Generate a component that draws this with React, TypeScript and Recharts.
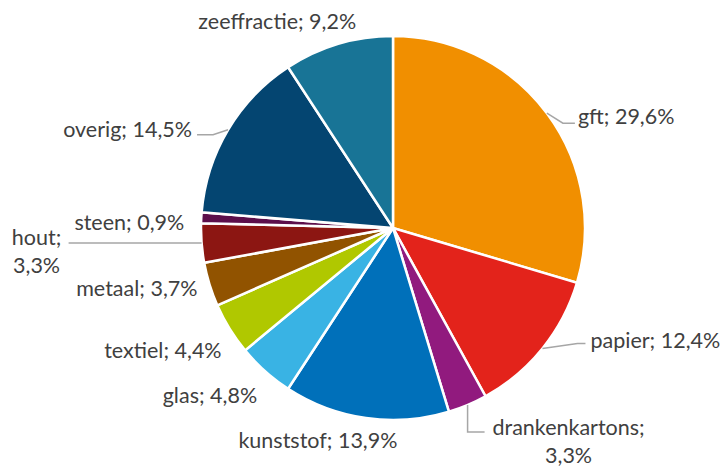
import React from "react"
import { PieChart, Pie, Cell } from "recharts"

const categories = [
  "gft",
  "papier",
  "drankenkartons",
  "kunststof",
  "glas",
  "textiel",
  "metaal",
  "hout",
  "steen",
  "overig",
  "zeeffractie",
]

const shares = [29.6, 12.4, 3.3, 13.9, 4.8, 4.4, 3.7, 3.3, 0.9, 14.5, 9.2]

const colors = [
  "#F18F00",
  "#E3231B",
  "#911A7E",
  "#0070BA",
  "#39B3E4",
  "#B0C800",
  "#915300",
  "#8C1612",
  "#5C0F4B",
  "#044571",
  "#187496",
]

// label placement, offsets from the slice's outer edge at its mid angle
type LabelPlace = {
  dx: number
  dy: number
  anchor: "start" | "middle" | "end"
  wrap?: boolean
  leader?: [number, number][]
}

const labelPlaces: LabelPlace[] = [
  { dx: 31, dy: 3, anchor: "start", leader: [[16, 10], [28, 10]] },
  { dx: 48, dy: -9, anchor: "start", leader: [[35, -5], [43, -5]] },
  { dx: 101, dy: 22, anchor: "middle", wrap: true, leader: [[0, 27], [17, 27]] },
  { dx: -48, dy: 22, anchor: "middle" },
  { dx: -8, dy: 24, anchor: "end" },
  { dx: -8, dy: 21, anchor: "end" },
  { dx: -12, dy: 4, anchor: "end" },
  { dx: -165, dy: -6, anchor: "middle", wrap: true, leader: [[-133, 0]] },
  { dx: -17, dy: 4, anchor: "end" },
  { dx: -36, dy: -1, anchor: "end", leader: [[-15, 5], [-31, 5]] },
  { dx: -61, dy: -23, anchor: "middle" },
]

const data = categories.map((name, i) => ({ name, value: shares[i] }))

const RAD = Math.PI / 180
const fmt = (v: number) => v.toFixed(1).replace(".", ",") + "%"

const renderLabel = (props: any) => {
  const { cx, cy, midAngle, outerRadius, index, name, value } = props
  const ex = cx + Math.cos(-midAngle * RAD) * outerRadius
  const ey = cy + Math.sin(-midAngle * RAD) * outerRadius
  const place = labelPlaces[index]
  const tx = ex + place.dx
  const ty = ey + place.dy
  const text = `${name}; ${fmt(value)}`

  let points = ""
  if (place.leader) {
    points = [[0, 0], ...place.leader].map(([x, y]) => `${ex + x},${ey + y}`).join(" ")
  }

  return (
    <g key={`label-${index}`}>
      {place.leader && (
        <polyline points={points} fill="none" stroke="#A6A6A6" strokeWidth={1.5} />
      )}
      {place.wrap ? (
        <text x={tx} y={ty} textAnchor={place.anchor} dominantBaseline="central" fill="#404040" fontSize={21.5}>
          <tspan x={tx} dy={0}>{`${name};`}</tspan>
          <tspan x={tx} dy={28}>{fmt(value)}</tspan>
        </text>
      ) : (
        <text x={tx} y={ty} textAnchor={place.anchor} dominantBaseline="central" fill="#404040" fontSize={21.5}>
          {text}
        </text>
      )}
    </g>
  )
}

export default function App() {
  return (
    <div style={{ position: "absolute", left: 0, top: 0, width: 725, height: 467, background: "#fff", fontFamily: "Lato, 'Open Sans', sans-serif" }}>
      <PieChart width={725} height={467} margin={{ top: 0, right: 0, bottom: 0, left: 0 }}>
        <Pie
          data={data}
          dataKey="value"
          nameKey="name"
          cx={393}
          cy={228}
          outerRadius={192}
          startAngle={90}
          endAngle={-270}
          stroke="#ffffff"
          strokeWidth={2.5}
          label={renderLabel}
          labelLine={false}
          isAnimationActive={false}
        >
          {data.map((entry, i) => (
            <Cell key={`cell-${i}`} fill={colors[i]} />
          ))}
        </Pie>
      </PieChart>
    </div>
  )
}
